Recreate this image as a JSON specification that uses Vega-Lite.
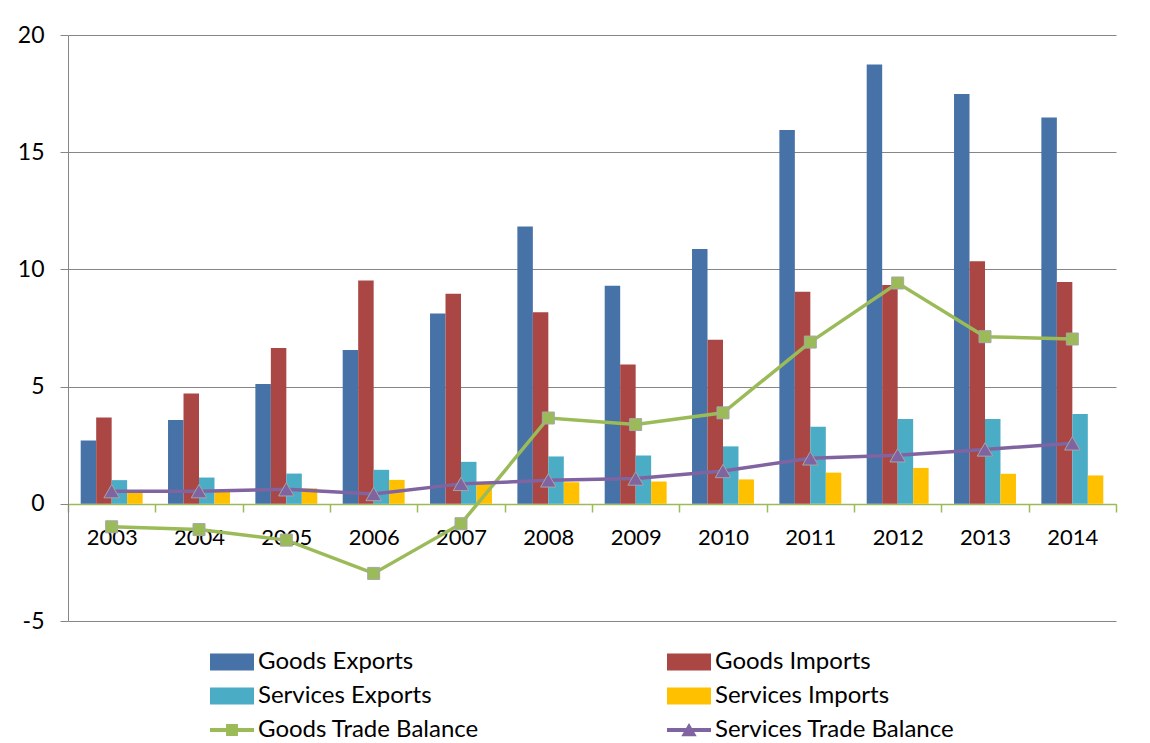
{
  "$schema": "https://vega.github.io/schema/vega-lite/v6.json",
  "width": 1048,
  "height": 586,
  "autosize": {"type": "none"},
  "padding": {"left": 68, "top": 35, "right": 34, "bottom": 122},
  "background": "white",
  "config": {"font": "Lato", "view": {"stroke": null}},
  "datasets": {
    "bars": [
      {"year": "2003", "series": "Goods Exports", "value": 2.70},
      {"year": "2003", "series": "Goods Imports", "value": 3.68},
      {"year": "2003", "series": "Services Exports", "value": 1.01},
      {"year": "2003", "series": "Services Imports", "value": 0.47},
      {"year": "2004", "series": "Goods Exports", "value": 3.58},
      {"year": "2004", "series": "Goods Imports", "value": 4.71},
      {"year": "2004", "series": "Services Exports", "value": 1.12},
      {"year": "2004", "series": "Services Imports", "value": 0.58},
      {"year": "2005", "series": "Goods Exports", "value": 5.11},
      {"year": "2005", "series": "Goods Imports", "value": 6.65},
      {"year": "2005", "series": "Services Exports", "value": 1.29},
      {"year": "2005", "series": "Services Imports", "value": 0.66},
      {"year": "2006", "series": "Goods Exports", "value": 6.56},
      {"year": "2006", "series": "Goods Imports", "value": 9.53},
      {"year": "2006", "series": "Services Exports", "value": 1.45},
      {"year": "2006", "series": "Services Imports", "value": 1.02},
      {"year": "2007", "series": "Goods Exports", "value": 8.12},
      {"year": "2007", "series": "Goods Imports", "value": 8.96},
      {"year": "2007", "series": "Services Exports", "value": 1.79},
      {"year": "2007", "series": "Services Imports", "value": 0.94},
      {"year": "2008", "series": "Goods Exports", "value": 11.83},
      {"year": "2008", "series": "Goods Imports", "value": 8.17},
      {"year": "2008", "series": "Services Exports", "value": 2.02},
      {"year": "2008", "series": "Services Imports", "value": 0.92},
      {"year": "2009", "series": "Goods Exports", "value": 9.30},
      {"year": "2009", "series": "Goods Imports", "value": 5.94},
      {"year": "2009", "series": "Services Exports", "value": 2.06},
      {"year": "2009", "series": "Services Imports", "value": 0.95},
      {"year": "2010", "series": "Goods Exports", "value": 10.87},
      {"year": "2010", "series": "Goods Imports", "value": 7.00},
      {"year": "2010", "series": "Services Exports", "value": 2.45},
      {"year": "2010", "series": "Services Imports", "value": 1.04},
      {"year": "2011", "series": "Goods Exports", "value": 15.95},
      {"year": "2011", "series": "Goods Imports", "value": 9.05},
      {"year": "2011", "series": "Services Exports", "value": 3.29},
      {"year": "2011", "series": "Services Imports", "value": 1.33},
      {"year": "2012", "series": "Goods Exports", "value": 18.74},
      {"year": "2012", "series": "Goods Imports", "value": 9.33},
      {"year": "2012", "series": "Services Exports", "value": 3.62},
      {"year": "2012", "series": "Services Imports", "value": 1.53},
      {"year": "2013", "series": "Goods Exports", "value": 17.48},
      {"year": "2013", "series": "Goods Imports", "value": 10.35},
      {"year": "2013", "series": "Services Exports", "value": 3.62},
      {"year": "2013", "series": "Services Imports", "value": 1.28},
      {"year": "2014", "series": "Goods Exports", "value": 16.48},
      {"year": "2014", "series": "Goods Imports", "value": 9.46},
      {"year": "2014", "series": "Services Exports", "value": 3.83},
      {"year": "2014", "series": "Services Imports", "value": 1.21}
    ],
    "lines": [
      {"year": "2003", "series": "Goods Trade Balance", "value": -0.98},
      {"year": "2004", "series": "Goods Trade Balance", "value": -1.10},
      {"year": "2005", "series": "Goods Trade Balance", "value": -1.55},
      {"year": "2006", "series": "Goods Trade Balance", "value": -2.97},
      {"year": "2007", "series": "Goods Trade Balance", "value": -0.85},
      {"year": "2008", "series": "Goods Trade Balance", "value": 3.66},
      {"year": "2009", "series": "Goods Trade Balance", "value": 3.38},
      {"year": "2010", "series": "Goods Trade Balance", "value": 3.88},
      {"year": "2011", "series": "Goods Trade Balance", "value": 6.90},
      {"year": "2012", "series": "Goods Trade Balance", "value": 9.42},
      {"year": "2013", "series": "Goods Trade Balance", "value": 7.13},
      {"year": "2014", "series": "Goods Trade Balance", "value": 7.03},
      {"year": "2003", "series": "Services Trade Balance", "value": 0.54},
      {"year": "2004", "series": "Services Trade Balance", "value": 0.54},
      {"year": "2005", "series": "Services Trade Balance", "value": 0.62},
      {"year": "2006", "series": "Services Trade Balance", "value": 0.42},
      {"year": "2007", "series": "Services Trade Balance", "value": 0.85},
      {"year": "2008", "series": "Services Trade Balance", "value": 1.00},
      {"year": "2009", "series": "Services Trade Balance", "value": 1.08},
      {"year": "2010", "series": "Services Trade Balance", "value": 1.40},
      {"year": "2011", "series": "Services Trade Balance", "value": 1.94},
      {"year": "2012", "series": "Services Trade Balance", "value": 2.07},
      {"year": "2013", "series": "Services Trade Balance", "value": 2.32},
      {"year": "2014", "series": "Services Trade Balance", "value": 2.58}
    ]
  },
  "layer": [
    {
      "data": {"name": "bars"},
      "mark": {"type": "bar"},
      "encoding": {
        "x": {
          "field": "year", "type": "nominal",
          "scale": {"paddingInner": 0, "paddingOuter": 0},
          "axis": {
            "title": null, "orient": "bottom", "offset": -117,
            "domainColor": "#9BBB59", "domainWidth": 1.5,
            "tickColor": "#9BBB59", "tickWidth": 1.5, "tickSize": 8,
            "tickBand": "extent", "labelAngle": 0,
            "labelFont": "Lato", "labelFontSize": 22, "labelColor": "#000000",
            "labelPadding": 15, "grid": false
          }
        },
        "xOffset": {
          "field": "series", "type": "nominal",
          "scale": {"domain": ["Goods Exports", "Goods Imports", "Services Exports", "Services Imports"], "paddingInner": 0, "paddingOuter": 0.82}
        },
        "y": {
          "field": "value", "type": "quantitative",
          "scale": {"domain": [-5, 20], "nice": false, "zero": false},
          "axis": {
            "title": null, "values": [-5, 0, 5, 10, 15, 20],
            "labelExpr": "'' + datum.value",
            "grid": true, "gridColor": "#868686", "gridWidth": 1,
            "domainColor": "#868686", "domainWidth": 1,
            "tickColor": "#868686", "tickSize": 8,
            "labelFont": "Lato", "labelFontSize": 23, "labelColor": "#000000",
            "labelPadding": 16
          }
        },
        "color": {
          "field": "series", "type": "nominal",
          "scale": {
            "domain": ["Goods Exports", "Goods Imports", "Services Exports", "Services Imports", "Goods Trade Balance", "Services Trade Balance"],
            "range": ["#4672A7", "#AA4643", "#4BACC6", "#FFC000", "#9BBB59", "#8064A2"]
          },
          "legend": {
            "title": null, "orient": "none", "direction": "horizontal", "legendX": 142, "legendY": 605,
            "columns": 2, "columnPadding": 188, "rowPadding": -10, "padding": 0,
            "labelFont": "Lato", "labelFontSize": 24, "labelColor": "#000000",
            "labelOffset": 4, "labelLimit": 400, "symbolSize": 1936,
            "encode": {
              "symbols": {
                "update": {
                  "shape": {"signal": "datum.value === 'Goods Trade Balance' ? 'M-1,-0.09H1V0.09H-1Z M-0.27,-0.27H0.27V0.27H-0.27Z' : datum.value === 'Services Trade Balance' ? 'M-1,-0.09H1V0.09H-1Z M-0.35,0.28L0,-0.32L0.35,0.28Z' : 'M-1,-0.39H1V0.39H-1Z'"},
                  "fill": {"signal": "scale('color', datum.value)"},
                  "stroke": {"value": "transparent"},
                  "strokeWidth": {"value": 0},
                  "opacity": {"value": 1}
                }
              }
            }
          }
        }
      }
    },
    {
      "data": {"name": "lines"},
      "mark": {"type": "line", "strokeWidth": 3.5},
      "encoding": {
        "x": {"field": "year", "type": "nominal"},
        "y": {"field": "value", "type": "quantitative"},
        "color": {"field": "series", "type": "nominal"}
      }
    },
    {
      "data": {"name": "lines"},
      "mark": {"type": "point", "filled": true, "opacity": 1, "stroke": "#A6A6A6", "strokeWidth": 1},
      "encoding": {
        "x": {"field": "year", "type": "nominal"},
        "y": {"field": "value", "type": "quantitative"},
        "color": {"field": "series", "type": "nominal"},
        "shape": {"field": "series", "type": "nominal", "scale": {"domain": ["Goods Trade Balance", "Services Trade Balance"], "range": ["square", "triangle-up"]}, "legend": null},
        "size": {"field": "series", "type": "ordinal", "scale": {"domain": ["Goods Trade Balance", "Services Trade Balance"], "range": [144, 240]}, "legend": null}
      }
    }
  ]
}
